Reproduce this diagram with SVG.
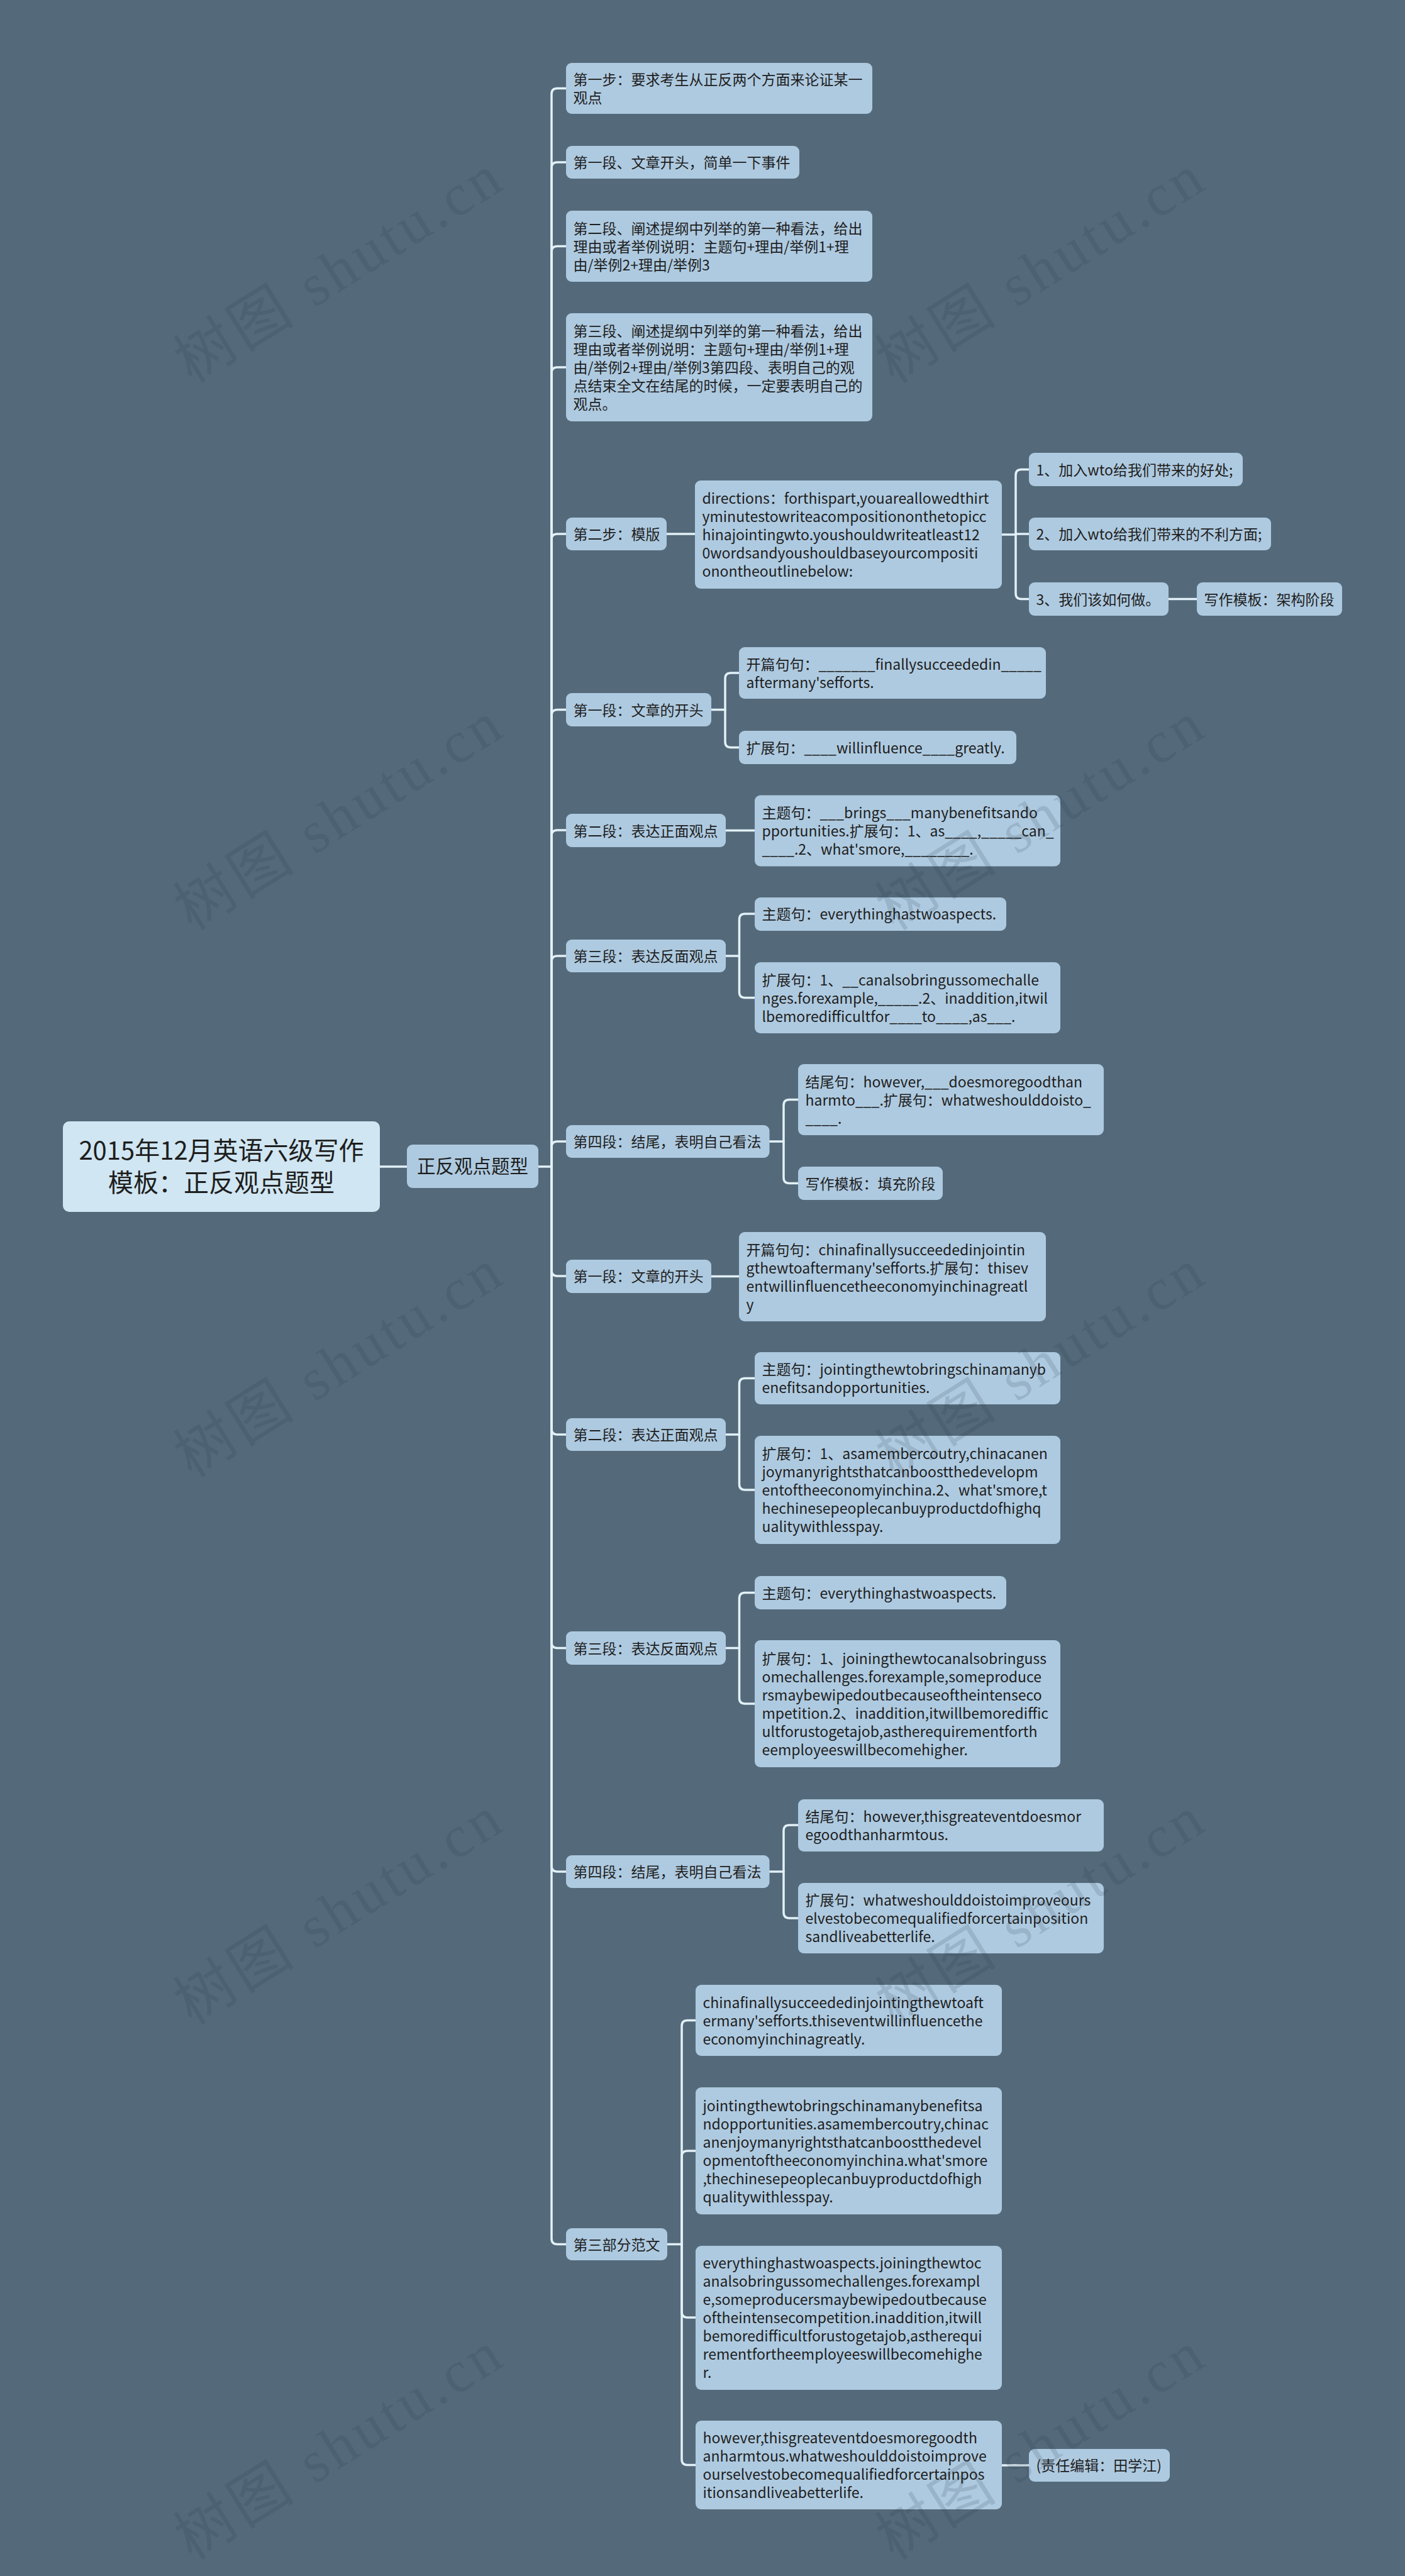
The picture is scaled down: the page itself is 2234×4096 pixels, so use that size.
<svg xmlns="http://www.w3.org/2000/svg" width="2234" height="4096" viewBox="0 0 2234 4096">
<style>
.bg{fill:#546a7a}
.n{fill:#aecae0}
.root{fill:#d0e6f2}
.t{font-family:"Noto Sans CJK SC","Liberation Sans",sans-serif;font-size:23px;fill:#1e1e1e}
.tr{font-family:"Noto Sans CJK SC","Liberation Sans",sans-serif;font-size:40px;fill:#1e1e1e;text-anchor:middle}
.t1{font-family:"Noto Sans CJK SC","Liberation Sans",sans-serif;font-size:29.5px;fill:#1e1e1e;text-anchor:middle}
.c{fill:none;stroke:#e2f1f8;stroke-width:3.5;stroke-linecap:round;stroke-linejoin:round}
.wm{font-family:"Liberation Serif","Noto Sans CJK SC",serif;font-size:94px;fill:#1f3040;opacity:0.14;letter-spacing:6px}
</style>
<rect class="bg" x="0" y="0" width="2234" height="4096"/>

<g id="connectors">
<path class="c" d="M604,1855 H647"/>
<path class="c" d="M856,1855 H877 V149.5 Q877,140.5 886,140.5 H900"/>
<path class="c" d="M877,1855 V267 Q877,258 886,258 H900"/>
<path class="c" d="M877,1855 V400.5 Q877,391.5 886,391.5 H900"/>
<path class="c" d="M877,1855 V593 Q877,584 886,584 H900"/>
<path class="c" d="M877,1855 V858 Q877,849 886,849 H900"/>
<path class="c" d="M877,1855 V1137.5 Q877,1128.5 886,1128.5 H900"/>
<path class="c" d="M877,1855 V1329 Q877,1320 886,1320 H900"/>
<path class="c" d="M877,1855 V1529 Q877,1520 886,1520 H900"/>
<path class="c" d="M877,1855 V1824 Q877,1815 886,1815 H900"/>
<path class="c" d="M877,1855 V2020 Q877,2029 886,2029 H900"/>
<path class="c" d="M877,1855 V2272 Q877,2281 886,2281 H900"/>
<path class="c" d="M877,1855 V2611.5 Q877,2620.5 886,2620.5 H900"/>
<path class="c" d="M877,1855 V2967 Q877,2976 886,2976 H900"/>
<path class="c" d="M877,1855 V3559.5 Q877,3568.5 886,3568.5 H900"/>
<path class="c" d="M1060,849 H1105"/>
<path class="c" d="M1593,850 H1615 V755.5 Q1615,746.5 1624,746.5 H1636"/>
<path class="c" d="M1615,850 V849 H1636"/>
<path class="c" d="M1615,850 V943.5 Q1615,952.5 1624,952.5 H1636"/>
<path class="c" d="M1858,952.5 H1903"/>
<path class="c" d="M1131,1128.5 H1153 V1079 Q1153,1070 1162,1070 H1175"/>
<path class="c" d="M1153,1128.5 V1179.5 Q1153,1188.5 1162,1188.5 H1175"/>
<path class="c" d="M1154,1320.5 H1200"/>
<path class="c" d="M1154,1520 H1175.5 V1462 Q1175.5,1453 1184.5,1453 H1200"/>
<path class="c" d="M1175.5,1520 V1577.5 Q1175.5,1586.5 1184.5,1586.5 H1200"/>
<path class="c" d="M1223.5,1815 H1246 V1757.5 Q1246,1748.5 1255,1748.5 H1269"/>
<path class="c" d="M1246,1815 V1872.5 Q1246,1881.5 1255,1881.5 H1269"/>
<path class="c" d="M1131,2029.5 H1175"/>
<path class="c" d="M1154,2281 H1175.5 V2200.5 Q1175.5,2191.5 1184.5,2191.5 H1200"/>
<path class="c" d="M1175.5,2281 V2360 Q1175.5,2369 1184.5,2369 H1200"/>
<path class="c" d="M1154,2620.5 H1175.5 V2541.5 Q1175.5,2532.5 1184.5,2532.5 H1200"/>
<path class="c" d="M1175.5,2620.5 V2700 Q1175.5,2709 1184.5,2709 H1200"/>
<path class="c" d="M1223.5,2976 H1246 V2911 Q1246,2902 1255,2902 H1269"/>
<path class="c" d="M1246,2976 V3041 Q1246,3050 1255,3050 H1269"/>
<path class="c" d="M1061,3568.5 H1084 V3221.5 Q1084,3212.5 1093,3212.5 H1106"/>
<path class="c" d="M1084,3568.5 V3429 Q1084,3420 1093,3420 H1106"/>
<path class="c" d="M1084,3568.5 V3676 Q1084,3685 1093,3685 H1106"/>
<path class="c" d="M1084,3568.5 V3910.5 Q1084,3919.5 1093,3919.5 H1106"/>
<path class="c" d="M1593,3920 H1636"/>
</g>

<g id="root">
<rect class="root" x="100" y="1783" width="504" height="144" rx="10"/>
<text class="tr"><tspan x="352" y="1844">2015年12月英语六级写作</tspan><tspan x="352" y="1895">模板：正反观点题型</tspan></text>
</g>

<g id="l1">
<rect class="n" x="647" y="1820" width="209" height="69" rx="9"/>
<text class="t1" x="751.5" y="1865">正反观点题型</text>
</g>

<g id="n1">
<rect class="n" x="900" y="100" width="487" height="81" rx="9"/>
<text class="t"><tspan x="911.5" y="135">第一步：要求考生从正反两个方面来论证某一</tspan><tspan x="911.5" y="164">观点</tspan></text>
</g>
<g id="n2">
<rect class="n" x="900" y="232" width="371" height="52" rx="9"/>
<text class="t" x="911.5" y="267">第一段、文章开头，简单一下事件</text>
</g>
<g id="n3">
<rect class="n" x="900" y="335" width="487" height="113" rx="9"/>
<text class="t"><tspan x="911.5" y="371.5">第二段、阐述提纲中列举的第一种看法，给出</tspan><tspan x="911.5" y="400.5">理由或者举例说明：主题句+理由/举例1+理</tspan><tspan x="911.5" y="429.5">由/举例2+理由/举例3</tspan></text>
</g>
<g id="n4">
<rect class="n" x="900" y="498" width="487" height="172" rx="9"/>
<text class="t"><tspan x="911.5" y="535">第三段、阐述提纲中列举的第一种看法，给出</tspan><tspan x="911.5" y="564">理由或者举例说明：主题句+理由/举例1+理</tspan><tspan x="911.5" y="593">由/举例2+理由/举例3第四段、表明自己的观</tspan><tspan x="911.5" y="622">点结束全文在结尾的时候，一定要表明自己的</tspan><tspan x="911.5" y="651">观点。</tspan></text>
</g>

<g id="n5">
<rect class="n" x="900" y="823" width="160" height="52" rx="9"/>
<text class="t" x="911.5" y="858">第二步：模版</text>
</g>
<g id="n5a">
<rect class="n" x="1105" y="764" width="488" height="172" rx="9"/>
<text class="t"><tspan x="1116.5" y="801">directions：forthispart,youareallowedthirt</tspan><tspan x="1116.5" y="830">yminutestowriteacompositiononthetopicc</tspan><tspan x="1116.5" y="859">hinajointingwto.youshouldwriteatleast12</tspan><tspan x="1116.5" y="888">0wordsandyoushouldbaseyourcompositi</tspan><tspan x="1116.5" y="917">onontheoutlinebelow:</tspan></text>
</g>
<g id="n5b">
<rect class="n" x="1636" y="720" width="340" height="53" rx="9"/>
<text class="t" x="1647.5" y="755.5">1、加入wto给我们带来的好处;</text>
</g>
<g id="n5c">
<rect class="n" x="1636" y="823" width="385" height="52" rx="9"/>
<text class="t" x="1647.5" y="858">2、加入wto给我们带来的不利方面;</text>
</g>
<g id="n5d">
<rect class="n" x="1636" y="926" width="222" height="53" rx="9"/>
<text class="t" x="1647.5" y="961.5">3、我们该如何做。</text>
</g>
<g id="n5e">
<rect class="n" x="1903" y="926" width="231" height="53" rx="9"/>
<text class="t" x="1914.5" y="961.5">写作模板：架构阶段</text>
</g>

<g id="n6">
<rect class="n" x="900" y="1102" width="231" height="53" rx="9"/>
<text class="t" x="911.5" y="1137.5">第一段：文章的开头</text>
</g>
<g id="n6a">
<rect class="n" x="1175" y="1029" width="488" height="82" rx="9"/>
<text class="t"><tspan x="1186.5" y="1064.5">开篇句句：_______finallysucceededin_____</tspan><tspan x="1186.5" y="1093.5">aftermany'sefforts.</tspan></text>
</g>
<g id="n6b">
<rect class="n" x="1175" y="1162" width="441" height="53" rx="9"/>
<text class="t" x="1186.5" y="1197.5">扩展句：____willinfluence____greatly.</text>
</g>

<g id="n7">
<rect class="n" x="900" y="1294" width="254" height="53" rx="9"/>
<text class="t" x="911.5" y="1329.5">第二段：表达正面观点</text>
</g>
<g id="n7a">
<rect class="n" x="1200" y="1264.5" width="486" height="113" rx="9"/>
<text class="t"><tspan x="1211.5" y="1301">主题句：___brings___manybenefitsando</tspan><tspan x="1211.5" y="1330">pportunities.扩展句：1、as____,_____can_</tspan><tspan x="1211.5" y="1359">____.2、what'smore,________.</tspan></text>
</g>

<g id="n8">
<rect class="n" x="900" y="1494" width="254" height="52" rx="9"/>
<text class="t" x="911.5" y="1529">第三段：表达反面观点</text>
</g>
<g id="n8a">
<rect class="n" x="1200" y="1427" width="400" height="53" rx="9"/>
<text class="t" x="1211.5" y="1462">主题句：everythinghastwoaspects.</text>
</g>
<g id="n8b">
<rect class="n" x="1200" y="1530" width="486" height="113" rx="9"/>
<text class="t"><tspan x="1211.5" y="1566.5">扩展句：1、__canalsobringussomechalle</tspan><tspan x="1211.5" y="1595.5">nges.forexample,_____.2、inaddition,itwil</tspan><tspan x="1211.5" y="1624.5">lbemoredifficultfor____to____,as___.</tspan></text>
</g>

<g id="n9">
<rect class="n" x="900" y="1789" width="323.5" height="52" rx="9"/>
<text class="t" x="911.5" y="1824">第四段：结尾，表明自己看法</text>
</g>
<g id="n9a">
<rect class="n" x="1269" y="1692" width="486" height="113" rx="9"/>
<text class="t"><tspan x="1280.5" y="1728.5">结尾句：however,___doesmoregoodthan</tspan><tspan x="1280.5" y="1757.5">harmto___.扩展句：whatweshoulddoisto_</tspan><tspan x="1280.5" y="1786.5">____.</tspan></text>
</g>
<g id="n9b">
<rect class="n" x="1269" y="1855" width="230" height="53" rx="9"/>
<text class="t" x="1280.5" y="1890.5">写作模板：填充阶段</text>
</g>

<g id="n10">
<rect class="n" x="900" y="2003" width="231" height="53" rx="9"/>
<text class="t" x="911.5" y="2038">第一段：文章的开头</text>
</g>
<g id="n10a">
<rect class="n" x="1175" y="1959" width="488" height="142" rx="9"/>
<text class="t"><tspan x="1186.5" y="1995.5">开篇句句：chinafinallysucceededinjointin</tspan><tspan x="1186.5" y="2024.5">gthewtoaftermany'sefforts.扩展句：thisev</tspan><tspan x="1186.5" y="2053.5">entwillinfluencetheeconomyinchinagreatl</tspan><tspan x="1186.5" y="2082.5">y</tspan></text>
</g>

<g id="n11">
<rect class="n" x="900" y="2255" width="254" height="52" rx="9"/>
<text class="t" x="911.5" y="2290">第二段：表达正面观点</text>
</g>
<g id="n11a">
<rect class="n" x="1200" y="2150" width="486" height="83" rx="9"/>
<text class="t"><tspan x="1211.5" y="2186">主题句：jointingthewtobringschinamanyb</tspan><tspan x="1211.5" y="2215">enefitsandopportunities.</tspan></text>
</g>
<g id="n11b">
<rect class="n" x="1200" y="2283" width="486" height="172" rx="9"/>
<text class="t"><tspan x="1211.5" y="2320">扩展句：1、asamembercoutry,chinacanen</tspan><tspan x="1211.5" y="2349">joymanyrightsthatcanboostthedevelopm</tspan><tspan x="1211.5" y="2378">entoftheeconomyinchina.2、what'smore,t</tspan><tspan x="1211.5" y="2407">hechinesepeoplecanbuyproductdofhighq</tspan><tspan x="1211.5" y="2436">ualitywithlesspay.</tspan></text>
</g>

<g id="n12">
<rect class="n" x="900" y="2594" width="254" height="53" rx="9"/>
<text class="t" x="911.5" y="2629.5">第三段：表达反面观点</text>
</g>
<g id="n12a">
<rect class="n" x="1200" y="2506" width="400" height="53" rx="9"/>
<text class="t" x="1211.5" y="2541.5">主题句：everythinghastwoaspects.</text>
</g>
<g id="n12b">
<rect class="n" x="1200" y="2608" width="486" height="202" rx="9"/>
<text class="t"><tspan x="1211.5" y="2645.5">扩展句：1、joiningthewtocanalsobringuss</tspan><tspan x="1211.5" y="2674.5">omechallenges.forexample,someproduce</tspan><tspan x="1211.5" y="2703.5">rsmaybewipedoutbecauseoftheintenseco</tspan><tspan x="1211.5" y="2732.5">mpetition.2、inaddition,itwillbemorediffic</tspan><tspan x="1211.5" y="2761.5">ultforustogetajob,astherequirementforth</tspan><tspan x="1211.5" y="2790.5">eemployeeswillbecomehigher.</tspan></text>
</g>

<g id="n13">
<rect class="n" x="900" y="2950" width="323.5" height="52" rx="9"/>
<text class="t" x="911.5" y="2985">第四段：结尾，表明自己看法</text>
</g>
<g id="n13a">
<rect class="n" x="1269" y="2861" width="486" height="83" rx="9"/>
<text class="t"><tspan x="1280.5" y="2896.5">结尾句：however,thisgreateventdoesmor</tspan><tspan x="1280.5" y="2925.5">egoodthanharmtous.</tspan></text>
</g>
<g id="n13b">
<rect class="n" x="1269" y="2994" width="486" height="112" rx="9"/>
<text class="t"><tspan x="1280.5" y="3030">扩展句：whatweshoulddoistoimproveours</tspan><tspan x="1280.5" y="3059">elvestobecomequalifiedforcertainposition</tspan><tspan x="1280.5" y="3088">sandliveabetterlife.</tspan></text>
</g>

<g id="n14">
<rect class="n" x="900" y="3543" width="161" height="51" rx="9"/>
<text class="t" x="911.5" y="3577.5">第三部分范文</text>
</g>
<g id="n14a">
<rect class="n" x="1106" y="3156" width="487" height="113" rx="9"/>
<text class="t"><tspan x="1117.5" y="3192.5">chinafinallysucceededinjointingthewtoaft</tspan><tspan x="1117.5" y="3221.5">ermany'sefforts.thiseventwillinfluencethe</tspan><tspan x="1117.5" y="3250.5">economyinchinagreatly.</tspan></text>
</g>
<g id="n14b">
<rect class="n" x="1106" y="3319" width="487" height="202" rx="9"/>
<text class="t"><tspan x="1117.5" y="3356.5">jointingthewtobringschinamanybenefitsa</tspan><tspan x="1117.5" y="3385.5">ndopportunities.asamembercoutry,chinac</tspan><tspan x="1117.5" y="3414.5">anenjoymanyrightsthatcanboostthedevel</tspan><tspan x="1117.5" y="3443.5">opmentoftheeconomyinchina.what'smore</tspan><tspan x="1117.5" y="3472.5">,thechinesepeoplecanbuyproductdofhigh</tspan><tspan x="1117.5" y="3501.5">qualitywithlesspay.</tspan></text>
</g>
<g id="n14c">
<rect class="n" x="1106" y="3571" width="487" height="229" rx="9"/>
<text class="t"><tspan x="1117.5" y="3607">everythinghastwoaspects.joiningthewtoc</tspan><tspan x="1117.5" y="3636">analsobringussomechallenges.forexampl</tspan><tspan x="1117.5" y="3665">e,someproducersmaybewipedoutbecause</tspan><tspan x="1117.5" y="3694">oftheintensecompetition.inaddition,itwill</tspan><tspan x="1117.5" y="3723">bemoredifficultforustogetajob,astherequi</tspan><tspan x="1117.5" y="3752">rementfortheemployeeswillbecomehighe</tspan><tspan x="1117.5" y="3781">r.</tspan></text>
</g>
<g id="n14d">
<rect class="n" x="1106" y="3849" width="487" height="141" rx="9"/>
<text class="t"><tspan x="1117.5" y="3885">however,thisgreateventdoesmoregoodth</tspan><tspan x="1117.5" y="3914">anharmtous.whatweshoulddoistoimprove</tspan><tspan x="1117.5" y="3943">ourselvestobecomequalifiedforcertainpos</tspan><tspan x="1117.5" y="3972">itionsandliveabetterlife.</tspan></text>
</g>
<g id="n14e">
<rect class="n" x="1636" y="3894" width="224" height="52" rx="9"/>
<text class="t" x="1647.5" y="3929">(责任编辑：田学江)</text>
</g>

<g id="watermarks">
<text class="wm" transform="translate(305,611) rotate(-32)">树图 shutu.cn</text>
<text class="wm" transform="translate(1421,611) rotate(-32)">树图 shutu.cn</text>
<text class="wm" transform="translate(305,1481) rotate(-32)">树图 shutu.cn</text>
<text class="wm" transform="translate(1421,1481) rotate(-32)">树图 shutu.cn</text>
<text class="wm" transform="translate(305,2351) rotate(-32)">树图 shutu.cn</text>
<text class="wm" transform="translate(1421,2351) rotate(-32)">树图 shutu.cn</text>
<text class="wm" transform="translate(305,3221) rotate(-32)">树图 shutu.cn</text>
<text class="wm" transform="translate(1421,3221) rotate(-32)">树图 shutu.cn</text>
<text class="wm" transform="translate(305,4072) rotate(-32)">树图 shutu.cn</text>
<text class="wm" transform="translate(1421,4072) rotate(-32)">树图 shutu.cn</text>
</g>
</svg>
